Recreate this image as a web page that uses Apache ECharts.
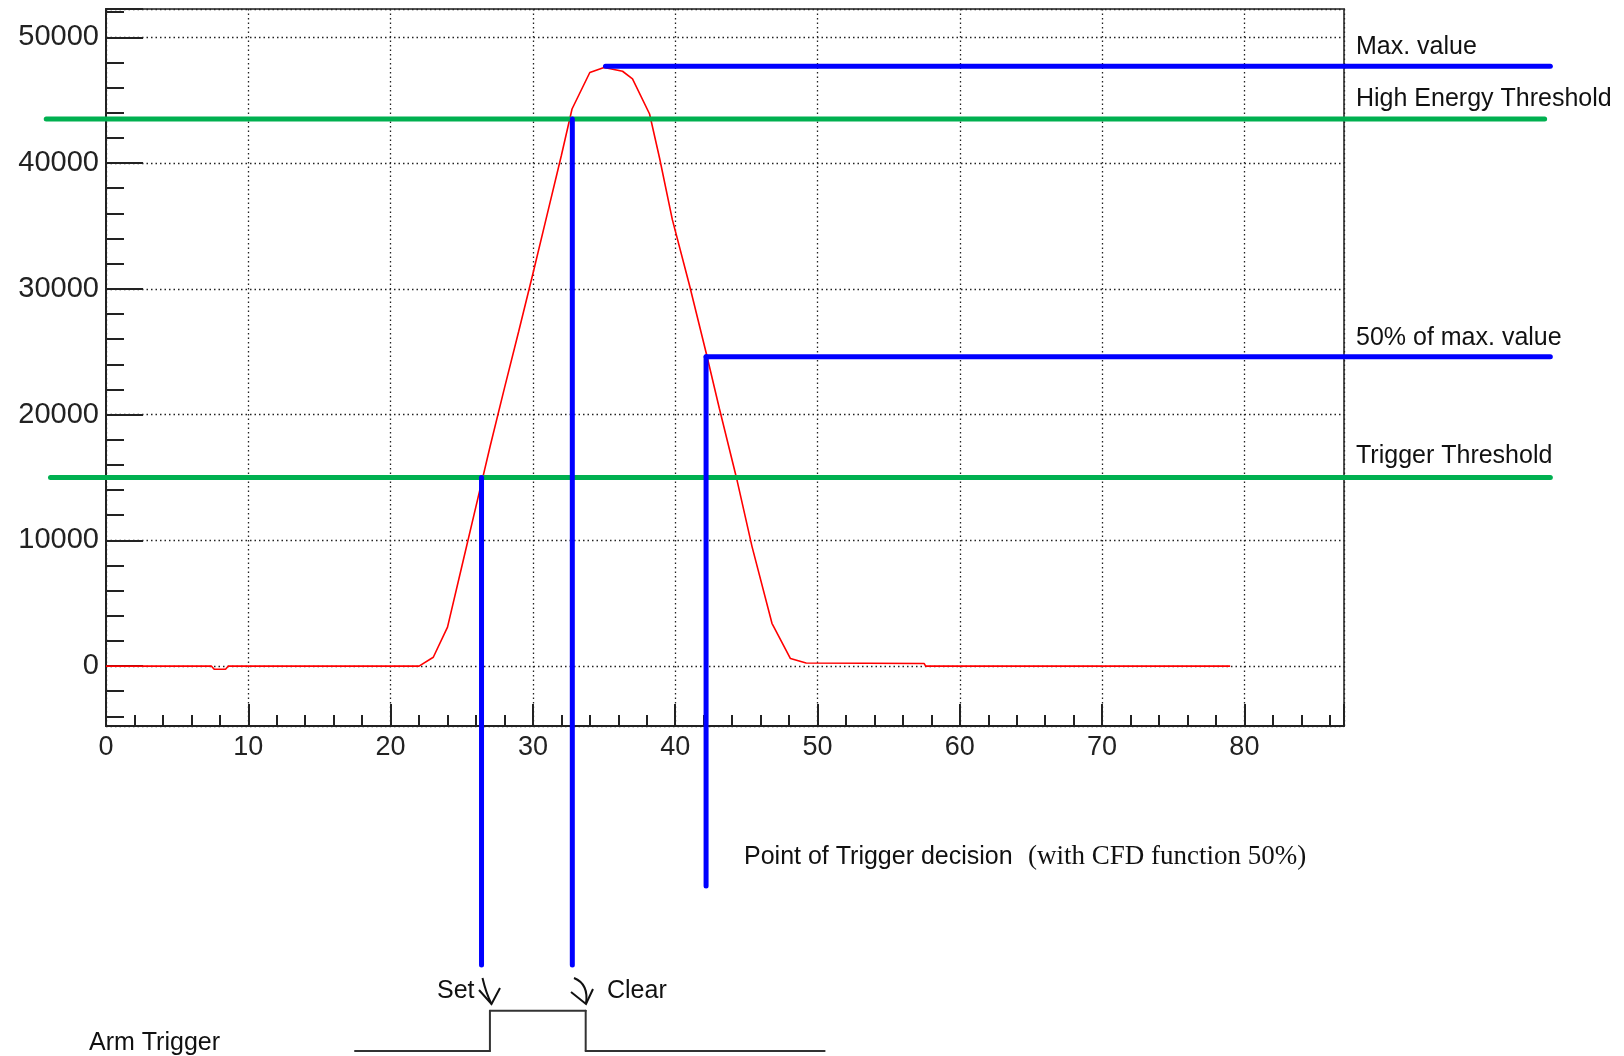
<!DOCTYPE html>
<html>
<head>
<meta charset="utf-8">
<script src="https://cdn.jsdelivr.net/npm/echarts@6/dist/echarts.min.js"></script>
<style>
  html, body { margin: 0; padding: 0; background: #fff; }
  #main { width: 1624px; height: 1056px; }
</style>
</head>
<body>
<div id="main"></div>
<script>
// pulse samples (x = sample index, y = ADC value)
var pulseX = [0, 7.4, 7.6, 8.4, 8.6, 22, 23, 24, 25, 26, 27, 28, 29, 30, 31, 32, 32.75, 34, 35, 36.3, 37, 38.2, 38.9, 39.8, 41, 42.2, 43.1, 44.3, 45.4, 46.8, 48.1, 49.2, 57.5, 57.6, 79];
var pulseY = [0, 0, -250, -250, 0, 0, 700, 3100, 7900, 12700, 17500, 22100, 26600, 31200, 35900, 40600, 44300, 47200, 47600, 47300, 46700, 43900, 40400, 35500, 30300, 24800, 20500, 15000, 9500, 3400, 600, 250, 200, 0, 0];

// levels
var maxValue = 47700;
var highEnergyThreshold = 43500;
var halfMax = 24600;
var triggerThreshold = 15000;

// where the annotation lines start / end (in axis units)
var maxLineX = [35.1, 101.5];
var heLineX = [-4.2, 101.1];
var halfLineX = [42.17, 101.5];
var trigLineX = [-3.9, 101.5];
var setX = 26.39, clearX = 32.77, cfdX = 42.17;
var dropBottom = -23770, cfdBottom = -17490;

// Arm Trigger timing trace
var armX = [17.5, 26.98, 26.98, 33.71, 33.71, 50.5];
var armY = [-30600, -30600, -27410, -27410, -30600, -30600];

function pairs(xs, ys) {
    var out = [];
    for (var i = 0; i < xs.length; i++) out.push([xs[i], ys[i]]);
    return out;
}

// segments [x1, y1, x2, y2] drawn through the axes, allowed to run outside the frame
function segments(data, color, width, z) {
    return {
        type: 'custom',
        clip: false,
        silent: true,
        z: z,
        data: data,
        encode: { x: [0, 2], y: [1, 3] },
        renderItem: function (params, api) {
            var a = api.coord([api.value(0), api.value(1)]);
            var b = api.coord([api.value(2), api.value(3)]);
            return {
                type: 'line',
                shape: { x1: a[0], y1: a[1], x2: b[0], y2: b[1] },
                style: { stroke: color, lineWidth: width, lineCap: 'round' }
            };
        }
    };
}

function chain(xs, ys) {
    var out = [];
    for (var i = 1; i < xs.length; i++) out.push([xs[i - 1], ys[i - 1], xs[i], ys[i]]);
    return out;
}

var BLUE = '#0000ff', GREEN = '#00b050';
var font = '"Liberation Sans", Arial, sans-serif';

var chart = echarts.init(document.getElementById('main'));
chart.setOption({
    animation: false,
    backgroundColor: '#fff',
    grid: {
        left: 106, right: 280, top: 9, bottom: 330,
        show: true, borderColor: '#555', borderWidth: 2,
        outerBoundsMode: 'none'
    },
    xAxis: {
        type: 'value',
        min: 0, max: 87, interval: 10,
        axisLine: { onZero: false, lineStyle: { color: '#222', width: 2 } },
        axisTick: { inside: true, length: 22, lineStyle: { color: '#222', width: 2 } },
        minorTick: { show: true, splitNumber: 5, length: 11, lineStyle: { color: '#222', width: 2 } },
        axisLabel: { fontFamily: font, fontSize: 27, color: '#222', margin: 8, showMaxLabel: false },
        splitLine: { show: true, lineStyle: { color: '#222', width: 1.3, type: [1.5, 3] } }
    },
    yAxis: {
        type: 'value',
        min: -4765, max: 52250, splitNumber: 5,
        axisLine: { onZero: false, lineStyle: { color: '#222', width: 2 } },
        axisTick: { inside: true, length: 37, lineStyle: { color: '#222', width: 2 } },
        minorTick: { show: true, splitNumber: 5, length: 18, lineStyle: { color: '#222', width: 2 } },
        axisLabel: {
            fontFamily: font, fontSize: 29, color: '#222', margin: 7,
            showMinLabel: false, showMaxLabel: false,
            formatter: function (v) { return String(v); }
        },
        splitLine: { show: true, lineStyle: { color: '#222', width: 1.3, type: [1.5, 3] } }
    },
    series: [
        {
            type: 'line',
            data: pairs(pulseX, pulseY),
            symbol: 'none',
            z: 3,
            lineStyle: { color: '#ff0000', width: 1.6 }
        },
        segments([
            [heLineX[0], highEnergyThreshold, heLineX[1], highEnergyThreshold],
            [trigLineX[0], triggerThreshold, trigLineX[1], triggerThreshold]
        ], GREEN, 5, 4),
        segments([
            [maxLineX[0], maxValue, maxLineX[1], maxValue],
            [halfLineX[0], halfMax, halfLineX[1], halfMax],
            [setX, triggerThreshold, setX, dropBottom],
            [clearX, highEnergyThreshold, clearX, dropBottom],
            [cfdX, halfMax, cfdX, cfdBottom]
        ], BLUE, 5, 5),
        segments(chain(armX, armY), '#333', 2, 5)
    ],
    graphic: [
        { type: 'text', x: 1356, y: 47, style: { text: 'Max. value', font: '25px ' + font, fill: '#111', verticalAlign: 'middle' } },
        { type: 'text', x: 1356, y: 99, style: { text: 'High Energy Threshold', font: '25px ' + font, fill: '#111', verticalAlign: 'middle' } },
        { type: 'text', x: 1356, y: 338, style: { text: '50% of max. value', font: '25px ' + font, fill: '#111', verticalAlign: 'middle' } },
        { type: 'text', x: 1356, y: 456, style: { text: 'Trigger Threshold', font: '25px ' + font, fill: '#111', verticalAlign: 'middle' } },
        { type: 'text', x: 744, y: 857, style: { text: 'Point of Trigger decision', font: '25px ' + font, fill: '#111', verticalAlign: 'middle' } },
        { type: 'text', x: 1028, y: 857, style: { text: '(with CFD function 50%)', font: '27px "Liberation Serif", "Times New Roman", serif', fill: '#111', verticalAlign: 'middle' } },
        { type: 'text', x: 437, y: 991, style: { text: 'Set', font: '25px ' + font, fill: '#111', verticalAlign: 'middle' } },
        { type: 'text', x: 607, y: 991, style: { text: 'Clear', font: '25px ' + font, fill: '#111', verticalAlign: 'middle' } },
        { type: 'text', x: 89, y: 1043, style: { text: 'Arm Trigger', font: '25px ' + font, fill: '#111', verticalAlign: 'middle' } },
        // hand drawn arrows
        { type: 'bezierCurve', shape: { x1: 482.5, y1: 978, cpx1: 486, cpy1: 993, x2: 491.5, y2: 1004 }, style: { stroke: '#111', lineWidth: 2, fill: null } },
        { type: 'polyline', shape: { points: [[479, 990], [491.5, 1004], [500, 988]] }, style: { stroke: '#111', lineWidth: 2, fill: null } },
        { type: 'bezierCurve', shape: { x1: 574, y1: 978, cpx1: 589, cpy1: 984, x2: 586, y2: 1004 }, style: { stroke: '#111', lineWidth: 2, fill: null } },
        { type: 'polyline', shape: { points: [[571, 992], [586, 1004], [593, 989]] }, style: { stroke: '#111', lineWidth: 2, fill: null } }
    ]
});
</script>
</body>
</html>
